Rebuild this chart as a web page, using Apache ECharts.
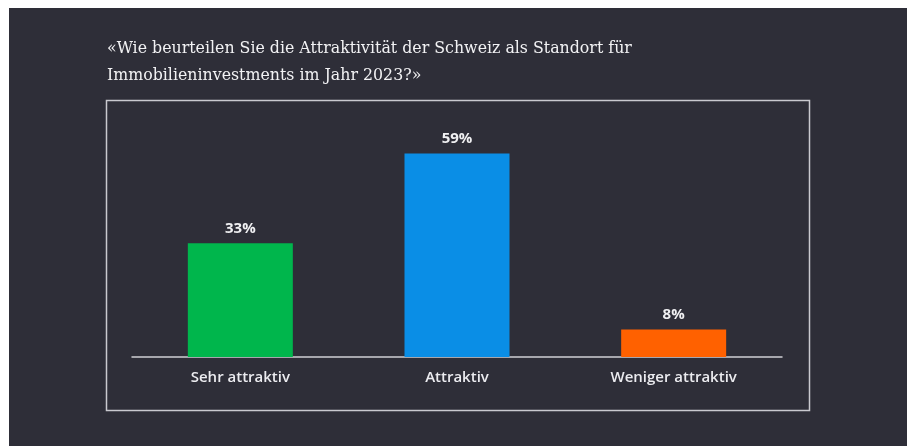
<!DOCTYPE html>
<html>
<head>
<meta charset="utf-8">
<script src="https://cdn.jsdelivr.net/npm/echarts@6/dist/echarts.min.js"></script>
<style>
  html, body { margin: 0; padding: 0; background: #ffffff; }
  #chart { width: 912px; height: 446px; }
</style>
</head>
<body>
<div id="chart"></div>
<script>
// Survey answers: attractiveness of Switzerland as a real-estate location in 2023
const categories = ['Sehr attraktiv', 'Attraktiv', 'Weniger attraktiv'];
const shares = [33, 59, 8];
const barColors = ['#00b64c', '#0a8ee6', '#ff6100'];
const titleLines = [
  '«Wie beurteilen Sie die Attraktivität der Schweiz als Standort für',
  'Immobilieninvestments im Jahr 2023?»'
];

const chart = echarts.init(document.getElementById('chart'), null, { renderer: 'canvas' });

chart.setOption({
  backgroundColor: '#ffffff',
  animation: false,
  graphic: [
    {
      type: 'rect',
      z: -10,
      silent: true,
      shape: { x: 9, y: 8, width: 898, height: 438 },
      style: { fill: '#2e2e38' }
    },
    {
      type: 'rect',
      z: -5,
      silent: true,
      shape: { x: 106.5, y: 100.5, width: 703, height: 310 },
      style: { fill: 'none', stroke: '#c9c9cf', lineWidth: 1.5 }
    }
  ],
  title: {
    text: titleLines.join('\n'),
    left: 102,
    top: 30,
    textStyle: {
      fontFamily: 'DejaVu Serif',
      fontWeight: 'normal',
      fontSize: 15.8,
      lineHeight: 27,
      color: '#f2f2f4'
    }
  },
  grid: { left: 132, right: 130, top: 150, bottom: 89 },
  xAxis: {
    type: 'category',
    data: categories,
    axisLine: { lineStyle: { color: '#d0d0d4', width: 1.5 } },
    axisTick: { show: false },
    axisLabel: {
      margin: 13,
      fontFamily: 'Open Sans',
      fontWeight: 600,
      fontSize: 15,
      color: '#ececf0'
    }
  },
  yAxis: {
    type: 'value',
    min: 0,
    max: 60,
    show: false,
    splitLine: { show: false }
  },
  series: [{
    type: 'bar',
    barWidth: 105,
    data: shares.map((v, i) => ({ value: v, itemStyle: { color: barColors[i] } })),
    label: {
      show: true,
      position: 'top',
      distance: 7,
      formatter: p => p.value + '%',
      fontFamily: 'Open Sans',
      fontWeight: 'bold',
      fontSize: 15,
      color: '#f0f0f2'
    }
  }]
});
</script>
</body>
</html>
